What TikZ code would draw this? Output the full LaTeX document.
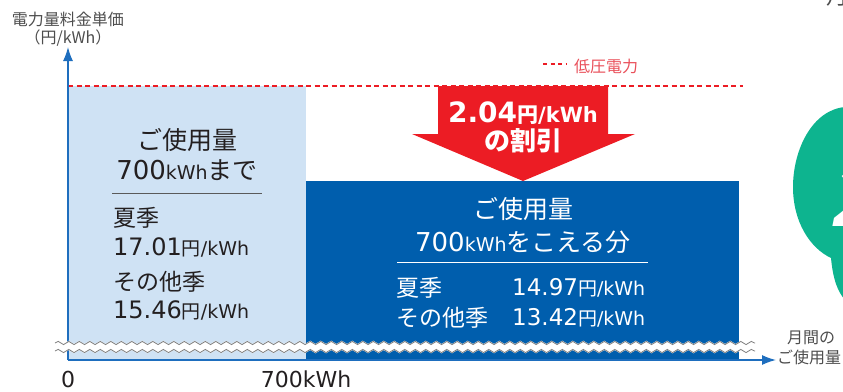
\documentclass[tikz,border=0pt]{standalone}
\usepackage{fontspec}
\setmainfont{Noto Sans CJK JP}
\newfontfamily\latin{DejaVu Sans}
\usetikzlibrary{arrows.meta,decorations.pathmorphing}
\definecolor{barblue}{HTML}{005EAD}
\definecolor{lightbar}{HTML}{CFE2F4}
\definecolor{axisblue}{HTML}{1E6EBE}
\definecolor{cutred}{HTML}{EC1C24}
\definecolor{legendred}{HTML}{E9505A}
\definecolor{inkgray}{HTML}{231F20}
\definecolor{notegray}{HTML}{4D4D4D}
\definecolor{rulegray}{HTML}{5A5A5A}
\definecolor{blobgreen}{HTML}{0DB48F}
\newcommand{\fs}[1]{\fontsize{#1}{#1}\selectfont}
\newcommand{\perkwh}[1]{{\fs{#1}円{\latin/kWh}}}
\newcommand{\num}[2]{{\latin\fs{#1}#2}}

\begin{document}
\begin{tikzpicture}[x=1pt,y=-1pt]
    \tikzstyle{axis}=[axisblue, line width=1.3pt, -{Latex[length=14pt,width=10pt]}]
    \tikzstyle{dark}=[inner sep=0pt, text=inkgray]
    \tikzstyle{light}=[inner sep=0pt, text=white]
    \tikzstyle{note}=[inner sep=0pt, text=notegray]
    \tikzstyle{wave}=[decorate, decoration={snake, amplitude=1.6pt, segment length=10.5pt}]
    \tikzstyle{lowline}=[cutred, line width=2pt, dash pattern=on 5pt off 3.5pt]

    \useasboundingbox (0,0) rectangle (843,391);

    % bars
    \fill[lightbar] (68,86) rectangle (306,360);
    \fill[barblue] (306,181) rectangle (739,361);

    % discount arrow
    \fill[cutred] (438,86) -- (608,86) -- (608,134) -- (635,134) -- (523,181)
        -- (412,134) -- (438,134) -- cycle;

    % low voltage line and legend
    \coordinate (lvstart) at (68,86);
    \coordinate (lvend) at (743,86);
    \draw[lowline] (lvstart) -- (lvend);
    \coordinate (legstart) at (543,64);
    \coordinate (legend) at (566,64);
    \draw[lowline, dash pattern=on 4pt off 3.5pt] (legstart) -- (legend);
    \node[inner sep=0pt, text=legendred, anchor=base west] (lvtext) at (574,72) {\fs{16}低圧電力};

    % axes
    \coordinate (origin) at (68,360);
    \coordinate (ytip) at (68,47);
    \coordinate (xtip) at (776,360);
    \draw[axis] (origin) -- (ytip);
    \draw[axis] (origin) -- (xtip);

    % break marks
    \coordinate (breakl) at (55,347);
    \coordinate (breakr) at (755,347);
    \draw[wave, white, line width=8pt] (breakl) -- (breakr);
    \draw[wave, gray, line width=0.8pt] ([yshift=-4pt]breakl) -- ([yshift=-4pt]breakr);
    \draw[wave, gray, line width=0.8pt] ([yshift=4pt]breakl) -- ([yshift=4pt]breakr);

    % axis titles
    \node[note, anchor=base] (ytitle) at (68,25) {\fs{16}電力量料金単価};
    \node[note, anchor=base] (yunit) at (68,43) {\fs{16}（円/kWh）};
    \node[note, anchor=base west] (xtitlea) at (787,343) {\fs{16}月間の};
    \node[note, anchor=base west] (xtitleb) at (777,363) {\fs{16}ご使用量};
    \node[dark, anchor=base] (zero) at (68,387) {\num{22}{0}};
    \node[dark, anchor=base] (limit) at (306,387) {\num{22}{700kWh}};

    % discount text
    \node[light, anchor=base] (cutval) at (523,122) {\bfseries\num{28}{2.04}\perkwh{21}};
    \node[light, anchor=base] (cutname) at (523,150) {\bfseries\fs{26}の割引};

    % up to 700kWh
    \node[dark, anchor=base] (lowtitle) at (187,149) {\fs{25}ご使用量};
    \node[dark, anchor=base] (lowrange) at (187,179) {\num{26}{700}\num{19}{kWh}\fs{25}まで};
    \coordinate (lowrulel) at (112,193);
    \coordinate (lowruler) at (262,193);
    \draw[rulegray, line width=0.8pt] (lowrulel) -- (lowruler);
    \node[dark, anchor=base west] (lowsummer) at (113,226) {\fs{23}夏季};
    \node[dark, anchor=base west] (lowsummerval) at (113,255) {\num{24}{17.01}\perkwh{19}};
    \node[dark, anchor=base west] (lowother) at (113,290) {\fs{23}その他季};
    \node[dark, anchor=base west] (lowotherval) at (113,318) {\num{24}{15.46}\perkwh{19}};

    % over 700kWh
    \node[light, anchor=base] (hightitle) at (523,218) {\fs{25}ご使用量};
    \node[light, anchor=base] (highrange) at (523,251) {\num{26}{700}\num{19}{kWh}\fs{25}をこえる分};
    \coordinate (highrulel) at (397,262);
    \coordinate (highruler) at (648,262);
    \draw[white, line width=0.8pt] (highrulel) -- (highruler);
    \node[light, anchor=base west] (highsummer) at (396,296) {\fs{23}夏季};
    \node[light, anchor=base west] (highsummerval) at (512,295) {\num{23}{14.97}\perkwh{19}};
    \node[light, anchor=base west] (highother) at (396,326) {\fs{23}その他季};
    \node[light, anchor=base west] (highotherval) at (512,325) {\num{23}{13.42}\perkwh{19}};

    % neighbour graphic at the edge
    \fill[blobgreen] (845,107) .. controls (812,110) and (793,150) .. (793,187)
        .. controls (793,222) and (810,248) .. (831,258)
        .. controls (833,280) and (838,292) .. (845,300) -- cycle;
    \node[light, anchor=west] (badge) at (829,197) {\bfseries\addfontfeatures{FakeSlant=0.2}\fs{80}2};
    \node[note, anchor=base west] (edgetext) at (826,4) {\fs{22}月};
\end{tikzpicture}
\end{document}
